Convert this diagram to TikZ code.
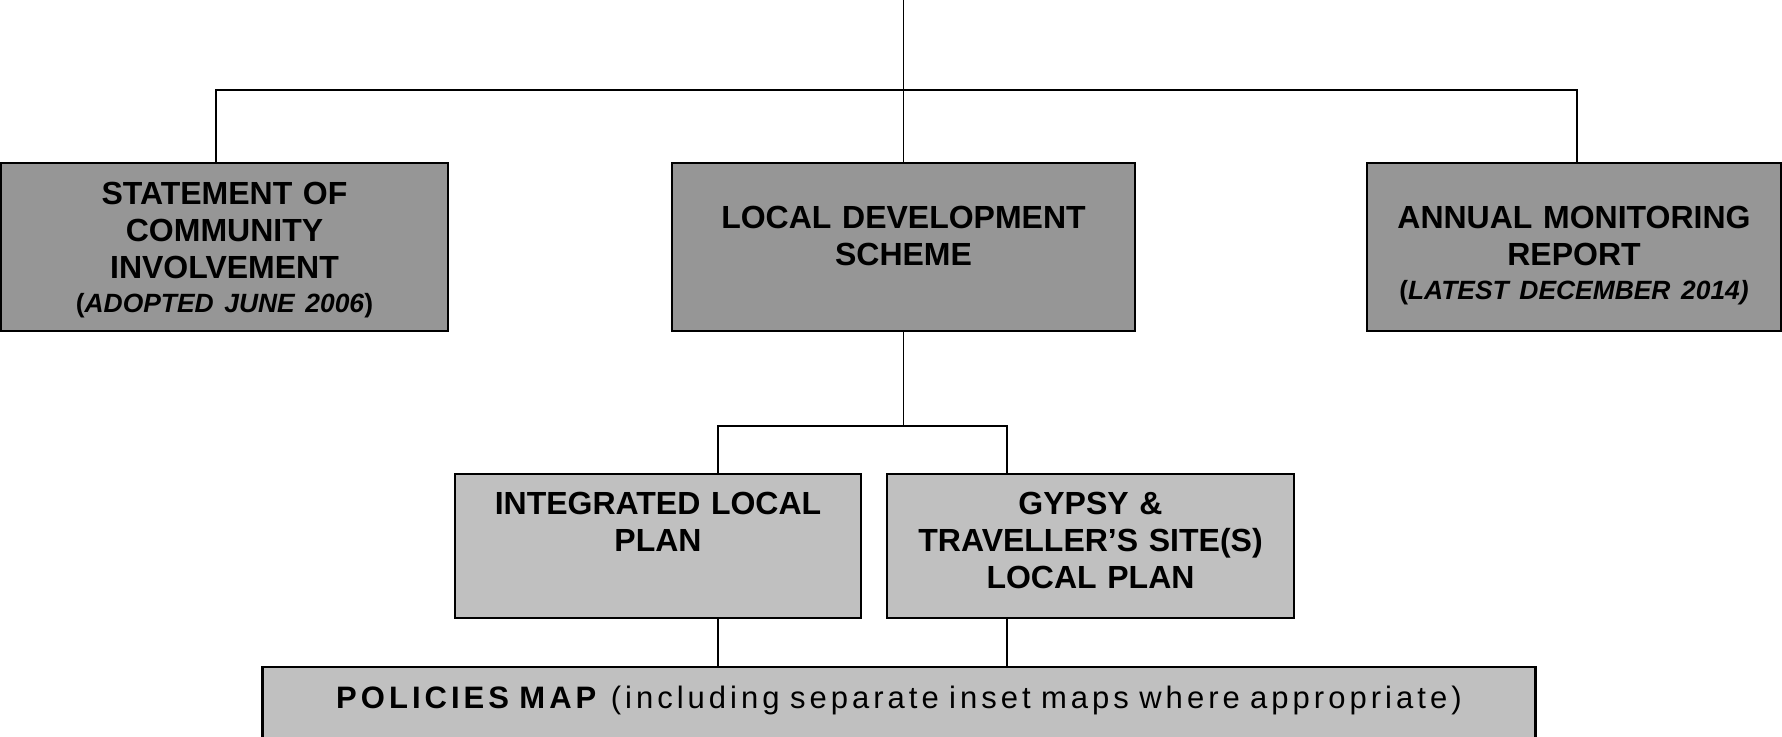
\documentclass[tikz,border=0pt]{standalone}
\usepackage{fontspec}
\setmainfont{Liberation Sans}
\newfontfamily\mapfont[LetterSpace=13]{Liberation Sans}
\usepackage{tikz}
\definecolor{boxdark}{HTML}{969696}
\definecolor{boxlight}{HTML}{C0C0C0}

\begin{document}
\begin{tikzpicture}[x=0.5pt,y=-0.5pt,
    box/.style={draw, line width=1.1pt, inner sep=0pt, anchor=north, align=center,
        font=\bfseries\fontsize{16}{18.5}\selectfont},
    link/.style={line width=0.9pt}]
    \useasboundingbox (0,0) rectangle (1782,736);

    \node[box, fill=boxdark, text width=223.5pt, text height=20.75pt, text depth=63.25pt] (sci) at (224.5,162)
        {STATEMENT OF\\COMMUNITY\\INVOLVEMENT\\[-1.7pt]{\fontsize{13.2}{18.5}\selectfont(\textit{ADOPTED JUNE 2006})}};
    \node[box, fill=boxdark, text width=231.5pt, text height=32.75pt, text depth=51.25pt] (lds) at (903.5,162)
        {LOCAL DEVELOPMENT\\SCHEME};
    \node[box, fill=boxdark, text width=207pt, text height=32.75pt, text depth=51.25pt] (amr) at (1574,162)
        {ANNUAL MONITORING\\REPORT\\[-1.5pt]{\fontsize{13.2}{18.5}\selectfont(\textit{LATEST DECEMBER 2014)}}};

    \node[box, fill=boxlight, text width=203pt, text height=20.25pt, text depth=51.75pt] (ilp) at (658,473)
        {INTEGRATED LOCAL\\PLAN};
    \node[box, fill=boxlight, text width=203.5pt, text height=20.25pt, text depth=51.75pt] (gts) at (1090.5,473)
        {GYPSY \&\\TRAVELLER'S SITE(S)\\LOCAL PLAN};

    \node[box, fill=boxlight, text width=636.5pt, text height=20.5pt, text depth=50pt,
        font=\mapfont\fontsize{15.5}{18.5}\selectfont] (map) at (899,666)
        {\textbf{POLICIES MAP} (including separate inset maps where appropriate)};

    \coordinate (top) at (903.5,0);
    \coordinate (busl) at (216,90);
    \coordinate (busr) at (1577,90);
    \coordinate (forkl) at (718,426);
    \coordinate (forkr) at (1007,426);

    \draw[link] (top) -- (lds.north);
    \draw[link] (busl |- sci.north) -- (busl) -- (busr) -- (busr |- amr.north);
    \draw[link] (lds.south) -- (lds.south |- forkl);
    \draw[link] (ilp.north -| forkl) -- (forkl) -- (forkr) -- (gts.north -| forkr);
    \draw[link] (ilp.south -| forkl) -- (map.north -| forkl);
    \draw[link] (gts.south -| forkr) -- (map.north -| forkr);
\end{tikzpicture}
\end{document}
